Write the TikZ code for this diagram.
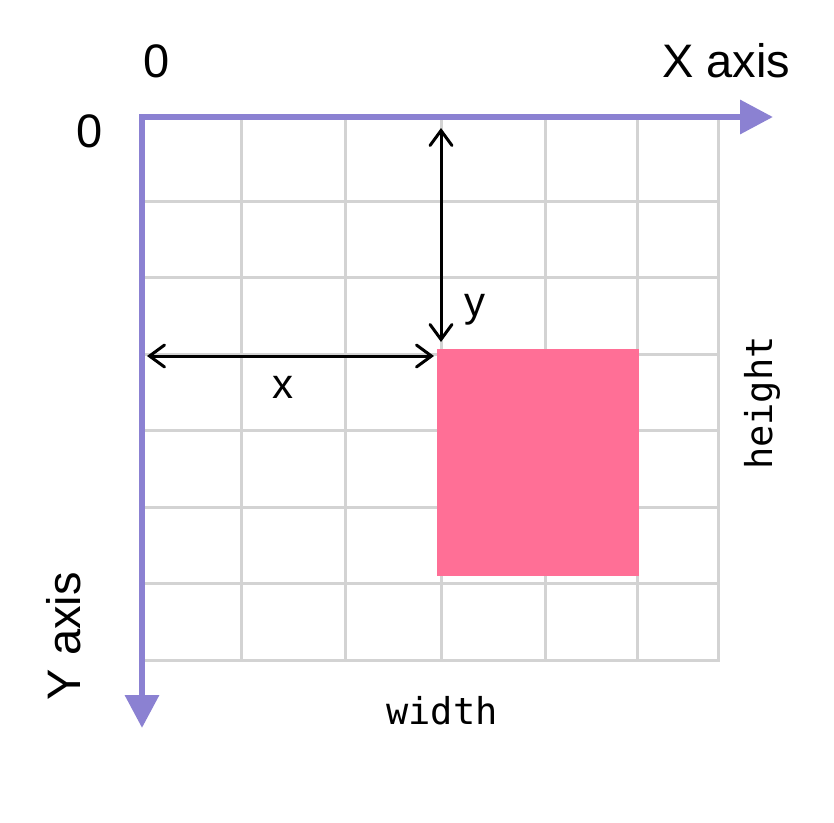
\documentclass[tikz,border=0pt]{standalone}
\usepackage{fontspec}
\setmainfont{Liberation Sans}
\newfontfamily\monofont{DejaVu Sans Mono}
\usetikzlibrary{arrows.meta}
\definecolor{axiscol}{RGB}{139,129,210}
\definecolor{gridcol}{RGB}{211,211,211}
\definecolor{rectcol}{RGB}{255,111,150}
\begin{document}
\begin{tikzpicture}[x=1pt,y=-1pt,
  gridline/.style={draw=gridcol,line width=3pt},
  axisline/.style={draw=axiscol,line width=6.5pt,line join=miter,
    {Triangle[length=33pt,width=33pt,fill=axiscol]}-{Triangle[length=33pt,width=33pt,fill=axiscol]}},
  dimarrow/.style={draw=black,line width=3pt,
    {Straight Barb[length=15pt,width=22pt,line cap=round]}-{Straight Barb[length=15pt,width=22pt,line cap=round]}},
  biglabel/.style={font=\fontsize{47}{47}\selectfont,anchor=base,inner sep=0pt},
  varlabel/.style={font=\fontsize{42}{42}\selectfont,anchor=base,inner sep=0pt},
  monolabel/.style={font=\monofont\fontsize{37}{37}\selectfont,anchor=base,inner sep=0pt}]
\useasboundingbox (0,0) rectangle (834,822);
% grid
\foreach \gx in {241,345,441,545,637,718} \draw[gridline] (\gx,115) -- (\gx,661.5);
\foreach \gy in {201,277,354,430,507,583,660} \draw[gridline] (142,\gy) -- (719.5,\gy);
% rectangle
\fill[rectcol] (437,349) rectangle (639,576);
% axes
\coordinate (xend) at (773,117);
\coordinate (origin) at (142,117);
\coordinate (yend) at (142,728);
\draw[axisline] (xend) -- (origin) -- (yend);
% dimension arrows
\coordinate (ytop) at (441,128);
\coordinate (ybot) at (441,342);
\coordinate (xleft) at (147,356);
\coordinate (xright) at (434,356);
\draw[dimarrow] (ytop) -- (ybot);
\draw[dimarrow] (xleft) -- (xright);
% labels
\node[biglabel] (zx) at (157,77) {0};
\node[biglabel] (zy) at (89.5,147) {0};
\node[biglabel] (xax) at (726,77) {X axis};
\node[biglabel,rotate=90] (yax) at (80,636) {Y axis};
\node[varlabel] (ylab) at (475,316) {y};
\node[varlabel] (xlab) at (283,398) {x};
\node[monolabel] (wlab) at (442,724) {width};
\node[monolabel,rotate=90] (hlab) at (772,403) {height};
\end{tikzpicture}
\end{document}
